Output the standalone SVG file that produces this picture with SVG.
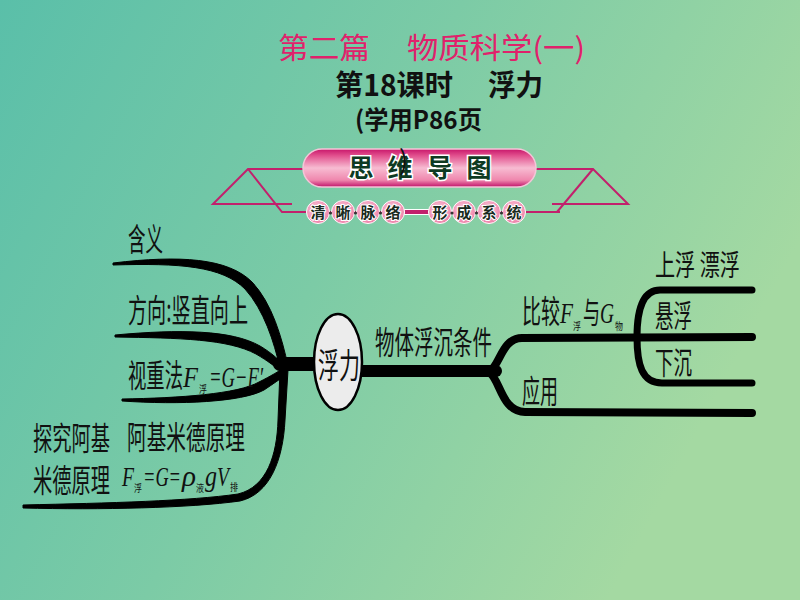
<svg xmlns="http://www.w3.org/2000/svg" width="800" height="600" viewBox="0 0 800 600">
<defs>
<linearGradient id="bg" x1="0" y1="0" x2="1" y2="0.4">
<stop offset="0" stop-color="#5abfa9"/>
<stop offset="0.5" stop-color="#7ccba6"/>
<stop offset="1" stop-color="#a4d9a2"/>
</linearGradient>
<linearGradient id="pill" x1="0" y1="0" x2="0" y2="1">
<stop offset="0" stop-color="#c8156a"/>
<stop offset="0.18" stop-color="#e2528f"/>
<stop offset="0.5" stop-color="#f7bcd2"/>
<stop offset="0.82" stop-color="#ef86ad"/>
<stop offset="1" stop-color="#c0126a"/>
</linearGradient>
<radialGradient id="dot" cx="0.45" cy="0.4" r="0.6">
<stop offset="0" stop-color="#fbd0e0"/>
<stop offset="1" stop-color="#ee7fa8"/>
</radialGradient>
<style>
.cn{font-family:"Noto Sans CJK SC","Noto Sans",sans-serif;fill:#111}
.it{font-family:"Liberation Serif",serif;font-style:italic;fill:#111}
.br{fill:none;stroke:#000;stroke-linecap:round;stroke-linejoin:round}
.fb{fill:#000;stroke:#000;stroke-width:1;stroke-linejoin:round}
.frame{fill:none;stroke:#c2206c;stroke-width:2}
.bt{font-family:"Noto Sans CJK SC",sans-serif;font-weight:bold;fill:#0e3a22;stroke:#fff;stroke-width:3;paint-order:stroke;text-anchor:middle}
.st{font-family:"Noto Sans CJK SC",sans-serif;font-weight:bold;fill:#1a2a20;stroke:#fff;stroke-width:2;paint-order:stroke;text-anchor:middle;font-size:15px}
</style>
</defs>
<rect width="800" height="600" fill="url(#bg)"/>

<g id="title">
<text class="cn" x="278" y="59" font-size="29" style="fill:#e0216b" textLength="92" lengthAdjust="spacingAndGlyphs">第二篇</text>
<text class="cn" x="407" y="59" font-size="29" style="fill:#e0216b" textLength="178" lengthAdjust="spacingAndGlyphs">物质科学(一)</text>
<text class="cn" x="335" y="96" font-size="29" font-weight="bold" textLength="118" lengthAdjust="spacingAndGlyphs">第18课时</text>
<text class="cn" x="488" y="96" font-size="29" font-weight="bold" textLength="55" lengthAdjust="spacingAndGlyphs">浮力</text>
<text class="cn" x="355" y="129" font-size="25" font-weight="bold" textLength="127" lengthAdjust="spacingAndGlyphs">(学用P86页</text>
</g>

<g id="banner">
<polyline class="frame" points="303,169 248,169 213,204 292,204"/>
<polyline class="frame" points="248,169 282,212 560,212"/>
<polyline class="frame" points="535,169 593,169 628,204 552,204"/>
<polyline class="frame" points="593,169 557,212"/>
<rect x="303" y="149" width="233" height="38" rx="19" fill="url(#pill)" stroke="#f3c6d8" stroke-width="1.5"/>
<text class="bt" x="361" y="177" font-size="25">思</text>
<text class="bt" x="400" y="177" font-size="25">维</text>
<text class="bt" x="440" y="177" font-size="25">导</text>
<text class="bt" x="479" y="177" font-size="25">图</text>
<rect x="404" y="209.5" width="26" height="5" fill="#c2206c" stroke="#fff" stroke-width="1"/>
<g fill="url(#dot)" stroke="#fff" stroke-width="1">
<circle cx="318" cy="212" r="11.5"/><circle cx="343" cy="212" r="11.5"/><circle cx="368" cy="212" r="11.5"/><circle cx="393" cy="212" r="11.5"/>
<circle cx="440" cy="212" r="11.5"/><circle cx="464" cy="212" r="11.5"/><circle cx="489" cy="212" r="11.5"/><circle cx="514" cy="212" r="11.5"/>
</g>
<g fill="#333">
<circle cx="330.5" cy="213" r="1.6"/><circle cx="355.5" cy="213" r="1.6"/><circle cx="380.5" cy="213" r="1.6"/>
<circle cx="452" cy="213" r="1.6"/><circle cx="476.5" cy="213" r="1.6"/><circle cx="501.5" cy="213" r="1.6"/>
</g>
<text class="st" x="318" y="218">清</text>
<text class="st" x="343" y="218">晰</text>
<text class="st" x="368" y="218">脉</text>
<text class="st" x="393" y="218">络</text>
<text class="st" x="440" y="218">形</text>
<text class="st" x="464" y="218">成</text>
<text class="st" x="489" y="218">系</text>
<text class="st" x="514" y="218">统</text>
<text class="cn" x="399" y="170" font-size="27">)</text>
</g>

<g id="connectors">
<path class="br" stroke-width="14" d="M280,364 L318,364"/>
<path class="br" stroke-width="12" d="M360,371 L496,371"/>
<path class="fb" d="M113,263 C180,255 228,258 252,282 C272,303 282,338 288,366 L280,368 C274,342 264,310 245,289 C222,266 180,263 113,265 Z"/>
<path class="fb" d="M115,335 C180,329 232,330 260,346 C272,353 280,361 286,367 L282,373 C276,367 268,361 256,354 C228,339 180,338 115,337 Z"/>
<path class="fb" d="M122,399 C180,398 238,394 259,382 C271,376 279,371 284,368 L286,375 C280,379 273,384 264,390 C242,402 180,405 122,401 Z"/>
<path class="fb" d="M23,505 C110,503 190,501 238,494 C267,487 277,455 278,420 L280,370 L288,370 L285,420 C283,460 270,494 240,501 C190,508 100,510 23,508 Z"/>
<path class="br" stroke-width="8" d="M490,371 C500,365 502,338 522,338 L752,337"/>
<path class="br" stroke-width="8" d="M490,373 C500,380 502,412 525,412 L752,413"/>
<path class="br" stroke-width="7" d="M752,290 L660,290 C642,290 637,310 637,337 C637,365 642,383 662,383 L752,383"/>
</g>

<g id="node-fuli">
<ellipse cx="338" cy="362" rx="24" ry="48" fill="#ececec" stroke="#000" stroke-width="2.5"/>
<text class="cn" x="318" y="378" font-size="34" textLength="42" lengthAdjust="spacingAndGlyphs">浮力</text>
</g>

<g id="node-hanyi"><text class="cn" x="128" y="251" font-size="32" textLength="35" lengthAdjust="spacingAndGlyphs">含义</text></g>
<g id="node-fangxiang"><text class="cn" x="128" y="322" font-size="32" textLength="120" lengthAdjust="spacingAndGlyphs">方向:竖直向上</text></g>
<g id="node-shizhong">
<text class="cn" x="128" y="387" font-size="32" textLength="55" lengthAdjust="spacingAndGlyphs">视重法</text>
<text class="it" x="183" y="387" font-size="30" textLength="15" lengthAdjust="spacingAndGlyphs">F</text>
<text class="cn" x="199" y="393" font-size="10" textLength="8" lengthAdjust="spacingAndGlyphs">浮</text>
<text class="it" x="209" y="387" font-size="30" textLength="54" lengthAdjust="spacingAndGlyphs">=G−F′</text>
</g>
<g id="node-tanjiu">
<text class="cn" x="33" y="450" font-size="32" textLength="77" lengthAdjust="spacingAndGlyphs">探究阿基</text>
<text class="cn" x="33" y="492" font-size="32" textLength="77" lengthAdjust="spacingAndGlyphs">米德原理</text>
</g>
<g id="node-archimedes">
<text class="cn" x="127" y="449" font-size="32" textLength="118" lengthAdjust="spacingAndGlyphs">阿基米德原理</text>
<text class="it" x="122" y="486" font-size="28" textLength="12" lengthAdjust="spacingAndGlyphs">F</text>
<text class="cn" x="134" y="492" font-size="10" textLength="8" lengthAdjust="spacingAndGlyphs">浮</text>
<text class="it" x="143" y="486" font-size="28" textLength="38" lengthAdjust="spacingAndGlyphs">=G=</text>
<text class="it" x="182" y="486" font-size="30" textLength="14" lengthAdjust="spacingAndGlyphs">ρ</text>
<text class="cn" x="196" y="492" font-size="10" textLength="8" lengthAdjust="spacingAndGlyphs">液</text>
<text class="it" x="205" y="486" font-size="30" textLength="12" lengthAdjust="spacingAndGlyphs">g</text>
<text class="it" x="217" y="486" font-size="28" textLength="12" lengthAdjust="spacingAndGlyphs">V</text>
<text class="cn" x="230" y="491" font-size="10" textLength="8" lengthAdjust="spacingAndGlyphs">排</text>
</g>
<g id="node-condition"><text class="cn" x="375" y="354" font-size="32" textLength="117" lengthAdjust="spacingAndGlyphs">物体浮沉条件</text></g>
<g id="node-compare">
<text class="cn" x="522" y="323" font-size="32" textLength="38" lengthAdjust="spacingAndGlyphs">比较</text>
<text class="it" x="560" y="323" font-size="30" textLength="13" lengthAdjust="spacingAndGlyphs">F</text>
<text class="cn" x="573" y="330" font-size="10" textLength="8" lengthAdjust="spacingAndGlyphs">浮</text>
<text class="cn" x="583" y="323" font-size="30" textLength="17" lengthAdjust="spacingAndGlyphs">与</text>
<text class="it" x="600" y="323" font-size="30" textLength="14" lengthAdjust="spacingAndGlyphs">G</text>
<text class="cn" x="615" y="330" font-size="10" textLength="8" lengthAdjust="spacingAndGlyphs">物</text>
</g>
<g id="node-yingyong"><text class="cn" x="522" y="403" font-size="32" textLength="36" lengthAdjust="spacingAndGlyphs">应用</text></g>
<g id="node-shangfu"><text class="cn" x="655" y="276" font-size="29" textLength="85" lengthAdjust="spacingAndGlyphs">上浮 漂浮</text></g>
<g id="node-xuanfu"><text class="cn" x="655" y="327" font-size="31" textLength="37" lengthAdjust="spacingAndGlyphs">悬浮</text></g>
<g id="node-xiachen"><text class="cn" x="655" y="374" font-size="31" textLength="37" lengthAdjust="spacingAndGlyphs">下沉</text></g>
</svg>
